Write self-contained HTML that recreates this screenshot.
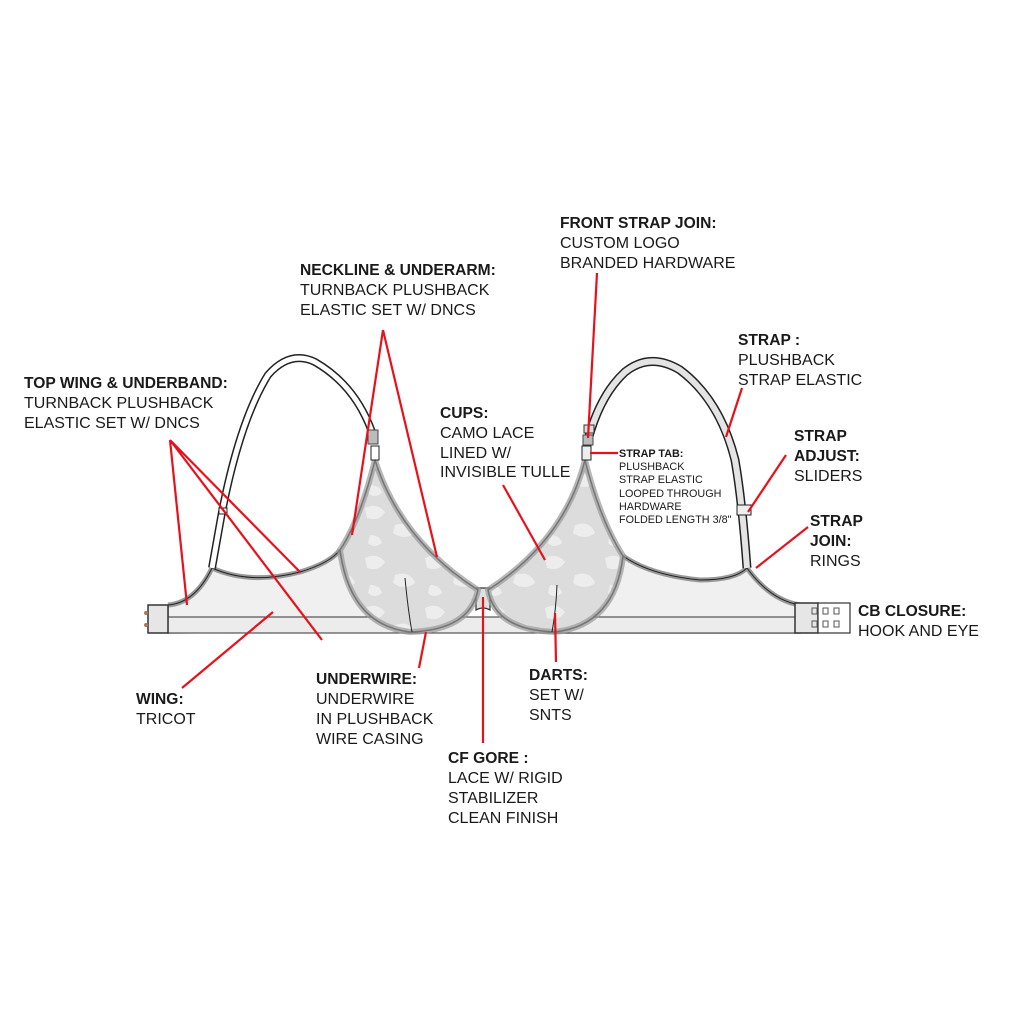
<!DOCTYPE html>
<html><head><meta charset="utf-8"><style>
html,body{margin:0;padding:0;background:#fff}
svg{display:block}
text{font-family:"Liberation Sans",sans-serif;fill:#1a1a1a}
.b{font-weight:bold;font-size:15.6px}
.n{font-size:16px}
.s{font-size:10.8px}
.sb{font-size:10.8px;font-weight:bold}
</style></head><body>
<svg width="1024" height="1024" viewBox="0 0 1024 1024">
<defs>
<pattern id="camo" width="60" height="50" patternUnits="userSpaceOnUse">
<rect width="60" height="50" fill="#dcdcdc"/>
<path d="M5 8 q12 -6 20 4 q-6 10 -18 6z M35 25 q15 -5 20 8 q-10 8 -22 0z M10 35 q10 0 12 8 q-8 6 -14 0z" fill="#ededed"/>
</pattern>
</defs>
<path d="M168 605 Q195 603 212 568 Q250 585 300 572 Q330 563 340 550 L410 632 L168 633 Z" fill="#f0f0f0" stroke="#333" stroke-width="1.3"/>
<path d="M623 556 Q650 575 700 580 Q735 580 747 568 Q770 600 800 605 L800 633 L555 633 Z" fill="#f0f0f0" stroke="#333" stroke-width="1.3"/>
<rect x="168" y="617" width="632" height="16" fill="#ececec" stroke="#444" stroke-width="1.1"/>
<path d="M168 605 Q195 603 212 568 Q250 585 300 572 Q330 563 340 550" fill="none" stroke="#999" stroke-width="5"/>
<path d="M168 605 Q195 603 212 568 Q250 585 300 572 Q330 563 340 550" fill="none" stroke="#222" stroke-width="1"/>
<path d="M623 556 Q650 575 700 580 Q735 580 747 568 Q770 600 800 605" fill="none" stroke="#999" stroke-width="5"/>
<path d="M623 556 Q650 575 700 580 Q735 580 747 568 Q770 600 800 605" fill="none" stroke="#222" stroke-width="1"/>
<path d="M476 588 L490 588 L490 610 Q483 606 476 610 Z" fill="#e0e0e0" stroke="#333" stroke-width="1.2"/>
<path d="M375 460 Q400 540 478 590 Q470 630 410 632 Q350 625 340 550 Q360 520 375 460 Z" fill="url(#camo)" stroke="#222" stroke-width="1.5"/>
<path d="M375 460 Q400 540 478 590 Q470 630 410 632 Q350 625 340 550 Q360 520 375 460 Z" fill="none" stroke="#999" stroke-width="6" opacity="0.7"/>
<path d="M405 578 Q408 610 412 632" fill="none" stroke="#222" stroke-width="1"/>
<path d="M585 460 Q565 540 488 590 Q495 630 555 632 Q615 625 623 556 Q600 520 585 460 Z" fill="url(#camo)" stroke="#222" stroke-width="1.5"/>
<path d="M585 460 Q565 540 488 590 Q495 630 555 632 Q615 625 623 556 Q600 520 585 460 Z" fill="none" stroke="#999" stroke-width="6" opacity="0.7"/>
<path d="M557 585 Q556 610 552 632" fill="none" stroke="#222" stroke-width="1"/>
<path d="M212 568 L222 512 Q240 420 268 375 Q290 350 315 362 Q355 385 372 432" fill="none" stroke="#222" stroke-width="8"/>
<path d="M212 568 L222 512 Q240 420 268 375 Q290 350 315 362 Q355 385 372 432" fill="none" stroke="#fff" stroke-width="5"/>
<rect x="219" y="508" width="8" height="6" fill="#fff" stroke="#222"/>
<rect x="368" y="430" width="10" height="14" fill="#bbb" stroke="#444"/>
<rect x="371" y="446" width="8" height="14" fill="#fff" stroke="#222"/>
<path d="M588 440 Q600 395 625 372 Q650 352 680 370 Q720 400 735 460 Q742 500 747 568" fill="none" stroke="#222" stroke-width="9"/>
<path d="M588 440 Q600 395 625 372 Q650 352 680 370 Q720 400 735 460 Q742 500 747 568" fill="none" stroke="#e4e4e4" stroke-width="6"/>
<rect x="584" y="425" width="10" height="8" fill="#ddd" stroke="#333"/>
<rect x="583" y="435" width="10" height="10" fill="#bbb" stroke="#444"/>
<rect x="582" y="446" width="9" height="14" fill="#eee" stroke="#222"/>
<rect x="737" y="505" width="14" height="10" fill="#eee" stroke="#222"/>
<rect x="148" y="605" width="20" height="28" fill="#e6e6e6" stroke="#333" stroke-width="1.5"/>
<circle cx="146" cy="613" r="2" fill="#a76"/><circle cx="146" cy="625" r="2" fill="#a76"/>
<rect x="795" y="603" width="23" height="30" fill="#e6e6e6" stroke="#333" stroke-width="1.5"/>
<rect x="818" y="603" width="32" height="30" fill="#fff" stroke="#333" stroke-width="1.2"/>
<g fill="none" stroke="#555" stroke-width="1"><rect x="812" y="608" width="5" height="6"/><rect x="823" y="608" width="5" height="6"/><rect x="834" y="608" width="5" height="6"/><rect x="812" y="621" width="5" height="6"/><rect x="823" y="621" width="5" height="6"/><rect x="834" y="621" width="5" height="6"/></g>
<g stroke="#e8111b" stroke-width="2.2" fill="none">
<path d="M383 330 L352 535 M383 330 L437 557"/>
<path d="M170 440 L187 605 M170 440 L300 572 M170 440 L322 640"/>
<path d="M182 688 L273 612"/>
<path d="M419 668 L426 632"/>
<path d="M483 597 L483 743"/>
<path d="M555 613 L556 662"/>
<path d="M503 485 L545 560"/>
<path d="M597 273 L588 438"/>
<path d="M590 453 L618 453"/>
<path d="M742 388 L726 437"/>
<path d="M786 455 L748 512"/>
<path d="M808 527 L756 568"/>
</g>
<text class="b" x="300" y="275">NECKLINE &amp; UNDERARM:</text>
<text class="n" x="300" y="295">TURNBACK PLUSHBACK</text>
<text class="n" x="300" y="315">ELASTIC SET W/ DNCS</text>
<text class="b" x="24" y="388">TOP WING &amp; UNDERBAND:</text>
<text class="n" x="24" y="408">TURNBACK PLUSHBACK</text>
<text class="n" x="24" y="428">ELASTIC SET W/ DNCS</text>
<text class="b" x="440" y="418">CUPS:</text>
<text class="n" x="440" y="438">CAMO LACE</text>
<text class="n" x="440" y="458">LINED W/</text>
<text class="n" x="440" y="477">INVISIBLE TULLE</text>
<text class="b" x="560" y="228">FRONT STRAP JOIN:</text>
<text class="n" x="560" y="248">CUSTOM LOGO</text>
<text class="n" x="560" y="268">BRANDED HARDWARE</text>
<text class="b" x="738" y="345">STRAP :</text>
<text class="n" x="738" y="365">PLUSHBACK</text>
<text class="n" x="738" y="385">STRAP ELASTIC</text>
<text class="sb" x="619" y="457">STRAP TAB:</text>
<text class="s" x="619" y="470">PLUSHBACK</text>
<text class="s" x="619" y="483">STRAP ELASTIC</text>
<text class="s" x="619" y="497">LOOPED THROUGH</text>
<text class="s" x="619" y="510">HARDWARE</text>
<text class="s" x="619" y="523">FOLDED LENGTH 3/8"</text>
<text class="b" x="794" y="441">STRAP</text>
<text class="b" x="794" y="461">ADJUST:</text>
<text class="n" x="794" y="481">SLIDERS</text>
<text class="b" x="810" y="526">STRAP</text>
<text class="b" x="810" y="546">JOIN:</text>
<text class="n" x="810" y="566">RINGS</text>
<text class="b" x="858" y="616">CB CLOSURE:</text>
<text class="n" x="858" y="636">HOOK AND EYE</text>
<text class="b" x="136" y="704">WING:</text>
<text class="n" x="136" y="724">TRICOT</text>
<text class="b" x="316" y="684">UNDERWIRE:</text>
<text class="n" x="316" y="704">UNDERWIRE</text>
<text class="n" x="316" y="724">IN PLUSHBACK</text>
<text class="n" x="316" y="744">WIRE CASING</text>
<text class="b" x="529" y="680">DARTS:</text>
<text class="n" x="529" y="700">SET W/</text>
<text class="n" x="529" y="720">SNTS</text>
<text class="b" x="448" y="763">CF GORE :</text>
<text class="n" x="448" y="783">LACE W/ RIGID</text>
<text class="n" x="448" y="803">STABILIZER</text>
<text class="n" x="448" y="823">CLEAN FINISH</text>
</svg>
</body></html>
